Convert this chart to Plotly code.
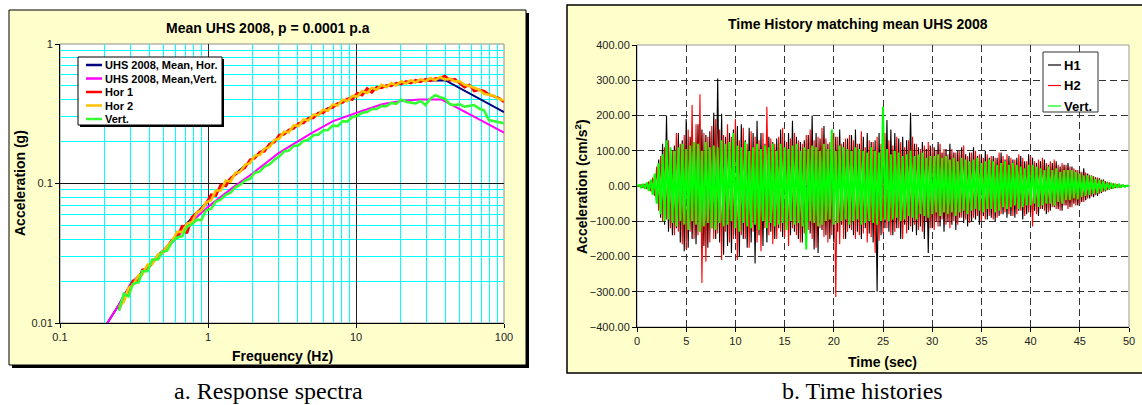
import plotly.graph_objects as go

W, H = 1142, 405

# ---------------- Left panel: response spectra ----------------
freq_uhs_h = [0.2, 0.25, 0.3, 0.4, 0.5, 0.7, 1.0, 1.5, 2.0, 3.0, 5.0, 7.0, 10, 15, 20, 30, 40, 50, 70, 100]
uhs_h = [0.0093, 0.0135, 0.019, 0.026, 0.033, 0.050, 0.075, 0.115, 0.150, 0.215, 0.300, 0.360,
         0.430, 0.490, 0.520, 0.548, 0.550, 0.485, 0.400, 0.325]
freq_uhs_v = [0.2, 0.25, 0.3, 0.4, 0.5, 0.7, 1.0, 1.5, 2.0, 3.0, 5.0, 7.0, 10, 15, 20, 27, 38, 50, 70, 100]
uhs_v = [0.0093, 0.0135, 0.019, 0.026, 0.032, 0.048, 0.068, 0.095, 0.118, 0.165, 0.230, 0.280,
         0.320, 0.370, 0.390, 0.400, 0.400, 0.345, 0.284, 0.232]

freq_rec = [0.25, 0.27, 0.29, 0.31, 0.34, 0.36, 0.39, 0.42, 0.46, 0.49,
            0.53, 0.57, 0.62, 0.67, 0.72, 0.78, 0.84, 0.90, 0.97, 1.05,
            1.13, 1.22, 1.32, 1.42, 1.53, 1.65, 1.78, 1.92, 2.07, 2.24,
            2.41, 2.60, 2.81, 3.03, 3.27, 3.52, 3.80, 4.10, 4.42, 4.77,
            5.15, 5.55, 5.99, 6.46, 6.97, 7.52, 8.11, 8.75, 9.44, 10.2,
            11.0, 11.9, 12.8, 13.8, 14.9, 16.1, 17.3, 18.7, 20.2, 21.8,
            23.5, 25.3, 27.3, 29.5, 31.8, 34.3, 37.0, 39.9, 43.1, 46.5,
            50.1, 54.1, 58.3, 62.9, 67.9, 73.2, 79.0, 85.2, 91.9, 100]
hor1 = [0.0125, 0.0152, 0.0165, 0.0200, 0.0203, 0.0240, 0.0245, 0.0268, 0.0305, 0.0325,
        0.0350, 0.0392, 0.0410, 0.0500, 0.0440, 0.0575, 0.0620, 0.0655, 0.0720, 0.0830,
        0.0820, 0.0980, 0.0960, 0.1090, 0.1160, 0.1230, 0.1300, 0.1480, 0.1520, 0.1680,
        0.1700, 0.1920, 0.1980, 0.2230, 0.2250, 0.2420, 0.2480, 0.2700, 0.2720, 0.2950,
        0.2950, 0.3200, 0.3200, 0.3450, 0.3500, 0.3750, 0.3800, 0.4050, 0.4000, 0.4450,
        0.4300, 0.4800, 0.4500, 0.4900, 0.4850, 0.5050, 0.5000, 0.5250, 0.5150, 0.5400,
        0.5250, 0.5500, 0.5350, 0.5600, 0.5450, 0.5650, 0.5700, 0.5900, 0.5500, 0.5600,
        0.5200, 0.4900, 0.5100, 0.4600, 0.4700, 0.4600, 0.4350, 0.4200, 0.4100, 0.3850]
hor2 = [0.0130, 0.0142, 0.0178, 0.0186, 0.0220, 0.0222, 0.0262, 0.0265, 0.0310, 0.0315,
        0.0355, 0.0385, 0.0450, 0.0450, 0.0515, 0.0530, 0.0620, 0.0640, 0.0730, 0.0760,
        0.0890, 0.0890, 0.1050, 0.1030, 0.1190, 0.1210, 0.1360, 0.1400, 0.1580, 0.1600,
        0.1780, 0.1820, 0.2050, 0.2100, 0.2350, 0.2330, 0.2620, 0.2580, 0.2880, 0.2830,
        0.3120, 0.3080, 0.3380, 0.3320, 0.3680, 0.3620, 0.3980, 0.3900, 0.4250, 0.4200,
        0.4600, 0.4450, 0.4850, 0.4700, 0.5100, 0.4900, 0.5250, 0.5050, 0.5400, 0.5200,
        0.5500, 0.5300, 0.5600, 0.5400, 0.5700, 0.5500, 0.5800, 0.5550, 0.5650, 0.5400,
        0.5400, 0.5100, 0.5000, 0.4850, 0.4700, 0.4400, 0.4300, 0.4250, 0.4050, 0.3950]
vert_sa = [0.0122, 0.0162, 0.0155, 0.0190, 0.0196, 0.0236, 0.0235, 0.0285, 0.0285, 0.0325,
           0.0330, 0.0380, 0.0410, 0.0420, 0.0490, 0.0510, 0.0550, 0.0545, 0.0640, 0.0660,
           0.0740, 0.0770, 0.0830, 0.0860, 0.0940, 0.0980, 0.1050, 0.1080, 0.1190, 0.1220,
           0.1320, 0.1370, 0.1480, 0.1560, 0.1700, 0.1720, 0.1860, 0.1880, 0.2020, 0.2060,
           0.2220, 0.2240, 0.2400, 0.2420, 0.2600, 0.2580, 0.2800, 0.2780, 0.3000, 0.3050,
           0.3220, 0.3250, 0.3420, 0.3420, 0.3600, 0.3580, 0.3780, 0.3720, 0.4000, 0.3850,
           0.3800, 0.3750, 0.3900, 0.3650, 0.4050, 0.4300, 0.4150, 0.4050, 0.3700, 0.3650,
           0.3700, 0.3550, 0.3600, 0.3650, 0.3450, 0.3350, 0.2850, 0.2800, 0.2750, 0.2700]

# ---------------- Right panel: time histories (cm/s2), sampled every 0.2 s ----------------
dt = 0.2
h1 = [0, 2, -3, 5, -7, 9, -12, 16, -22, 30,
      -48, 75, -90, 120, -110, 200, -130, 95, -140, 115,
      -120, 150, -160, 130, -185, 190, -175, 140, -150, 120,
      -165, 175, -130, 160, -170, 145, -175, 155, -120, 208,
      -150, 305, -160, 205, -195, 140, -170, 150, -190, 160,
      -140, 170, -200, 175, -150, 130, -175, 165, -160, 150,
      -220, 185, -140, 150, -170, 120, -160, 140, -130, 125,
      -150, 135, -120, 160, -145, 130, -110, 150, -140, 185,
      -130, 140, -150, 125, -160, 130, -120, 145, -135, 200,
      -180, 150, -190, 135, -125, 170, -140, 120, -150, 130,
      -160, 140, -130, 160, -110, 125, -150, 135, -120, 145,
      -140, 160, -130, 120, -150, 140, -120, 150, -135, 125,
      -160, 130, -300, 150, -140, 170, -120, 187, -130, 160,
      -140, 150, -120, 135, -150, 140, -110, 130, -125, 208,
      -130, 120, -140, 110, -115, 125, -150, 105, -190, 115,
      -120, 110, -100, 125, -115, 95, -130, 105, -100, 120,
      -110, 95, -125, 100, -90, 110, -105, 90, -115, 95,
      -100, 110, -95, 85, -110, 90, -85, 100, -95, 80,
      -90, 85, -100, 80, -85, 95, -80, 75, -90, 85,
      -85, 75, -90, 80, -70, 85, -95, 70, -80, 90,
      -75, 80, -70, 65, -85, 70, -65, 75, -80, 60,
      -70, 65, -60, 70, -65, 55, -70, 60, -55, 65,
      -60, 55, -50, 45, -55, 40, -45, 50, -40, 35,
      -35, 30, -32, 25, -28, 22, -20, 18, -15, 12,
      -10, 9, -7, 6, -5, 4, -3, 3, -2, 1,
      0]
h2 = [0, -2, 4, -5, 6, -9, 13, -15, 24, -28,
      55, -70, 85, -100, 110, -95, 130, -120, 100, -140,
      150, -130, 120, -165, 145, -180, 160, -130, 230, -150,
      175, -140, 260, -275, 150, -215, 140, -160, 170, -150,
      190, -135, 160, -210, 145, -130, 175, -160, 140, -150,
      190, -210, 130, -140, 165, -150, 120, -175, 155, -130,
      140, -160, 130, -185, 150, -120, 225, -140, 135, -165,
      120, -150, 140, -130, 165, -145, 125, -170, 135, -120,
      150, -140, 130, -160, 120, -135, 145, -125, 160, -150,
      130, -175, 140, -120, 165, -145, 135, -160, 125, -140,
      150, -315, 140, -165, 120, -150, 135, -130, 145, -125,
      130, -150, 120, -140, 155, -135, 110, -160, 130, -145,
      125, -190, 140, -155, 120, -135, 150, -120, 130, -140,
      115, -130, 140, -120, 125, -150, 110, -135, 130, -115,
      140, -110, 120, -125, 105, -130, 115, -100, 125, -120,
      110, -125, 100, -115, 120, -95, 105, -110, 90, -120,
      105, -100, 95, -110, 100, -90, 115, -95, 85, -105,
      95, -90, 100, -85, 90, -100, 80, -95, 90, -85,
      85, -95, 80, -90, 95, -80, 85, -75, 90, -80,
      80, -85, 75, -80, 90, -70, 80, -85, 70, -75,
      85, -115, 70, -80, 75, -65, 80, -70, 65, -75,
      70, -60, 75, -65, 60, -70, 65, -55, 60, -65,
      55, -60, 50, -55, 45, -50, 40, -45, 38, -35,
      32, -30, 28, -26, 24, -22, 18, -16, 14, -12,
      10, -8, 7, -6, 5, -4, 3, -2, 2, -1,
      0]
vert_th = [0, 3, -4, 6, -8, 10, -14, 18, -25, 35,
           -50, 65, -80, 90, -100, 130, -95, 110, -105, 100,
           -115, 110, -100, 120, -110, 105, -125, 115, -100, 125,
           -110, 120, -130, 100, -115, 125, -105, 110, -120, 115,
           -125, 110, -105, 130, -115, 120, -110, 125, -100, 150,
           -120, 115, -130, 110, -105, 125, -115, 100, -120, 110,
           -110, 120, -125, 105, -100, 115, -120, 110, -105, 120,
           -115, 100, -110, 120, -105, 110, -125, 105, -100, 115,
           -110, 120, -105, 100, -115, 110, -180, 105, -100, 115,
           -105, 110, -115, 100, -110, 120, -100, 105, -95, 160,
           -110, 100, -105, 115, -100, 110, -95, 105, -110, 100,
           -100, 110, -95, 105, -110, 100, -105, 95, -100, 110,
           -105, 100, -110, 95, -100, 225, -95, 105, -100, 90,
           -95, 100, -90, 95, -100, 85, -95, 90, -85, 100,
           -90, 85, -95, 90, -80, 95, -85, 80, -90, 85,
           -80, 85, -75, 90, -85, 80, -75, 85, -80, 75,
           -75, 80, -85, 70, -75, 80, -70, 75, -80, 70,
           -70, 75, -65, 80, -70, 65, -75, 70, -65, 75,
           -65, 70, -75, 60, -70, 65, -60, 70, -65, 60,
           -60, 65, -55, 60, -65, 55, -60, 50, -55, 60,
           -55, 60, -50, 55, -60, 50, -55, 45, -50, 55,
           -50, 45, -55, 50, -45, 40, -50, 45, -40, 45,
           -40, 45, -35, 40, -38, 35, -32, 30, -28, 30,
           -25, 28, -22, 20, -20, 18, -16, 14, -12, 10,
           -9, 8, -7, 6, -5, 4, -3, 2, -2, 1,
           0]
time_s = [round(i * dt, 1) for i in range(len(h1))]

left_legend = ["UHS 2008, Mean, Hor.", "UHS 2008, Mean,Vert.", "Hor 1", "Hor 2", "Vert."]
left_colors = ["#000080", "#FF00FF", "#FF0000", "#FFC000", "#33FF33"]
right_legend = ["H1", "H2", "Vert."]
right_colors = ["#000000", "#FF0000", "#00FF00"]

SANS = "Liberation Sans, Arial, sans-serif"
SERIF = "Liberation Serif, Times New Roman, serif"


def px(x):
    return x / W


def py(y):
    return 1 - y / H


fig = go.Figure()

# left traces (drawn in legend order)
fig.add_trace(go.Scatter(x=freq_uhs_h, y=uhs_h, mode="lines", name=left_legend[0],
                         line=dict(color=left_colors[0], width=2), xaxis="x", yaxis="y"))
fig.add_trace(go.Scatter(x=freq_uhs_v, y=uhs_v, mode="lines", name=left_legend[1],
                         line=dict(color=left_colors[1], width=2), xaxis="x", yaxis="y"))
fig.add_trace(go.Scatter(x=freq_rec, y=hor1, mode="lines", name=left_legend[2],
                         line=dict(color=left_colors[2], width=2.6), xaxis="x", yaxis="y"))
fig.add_trace(go.Scatter(x=freq_rec, y=hor2, mode="lines", name=left_legend[3],
                         line=dict(color=left_colors[3], width=2.6), xaxis="x", yaxis="y"))
fig.add_trace(go.Scatter(x=freq_rec, y=vert_sa, mode="lines", name=left_legend[4],
                         line=dict(color=left_colors[4], width=2.6), xaxis="x", yaxis="y"))
# empty helper traces so the overlaid decade axes get their subplots
fig.add_trace(go.Scatter(x=[], y=[], mode="lines", xaxis="x3", yaxis="y", hoverinfo="skip"))
fig.add_trace(go.Scatter(x=[], y=[], mode="lines", xaxis="x", yaxis="y3", hoverinfo="skip"))

# right traces
for series, name, col, lw in zip([h1, h2, vert_th], right_legend, right_colors, [1.1, 1.1, 2.0]):
    fig.add_trace(go.Scatter(x=time_s, y=series, mode="lines", name=name,
                             line=dict(color=col, width=lw), xaxis="x2", yaxis="y2"))

# panel geometry in pixels
LP = (60, 44, 504, 323)     # left plot area x0, y0, x1, y1
RP = (637, 45, 1129, 327)   # right plot area

x_decades = [0.1, 1, 10, 100]
y_decades = [0.01, 0.1, 1]
minor_x = [m * 10 ** d for d in (-1, 0, 1) for m in range(2, 10)]
minor_y = [m * 10 ** d for d in (-2, -1) for m in range(2, 10)]

tickfont = dict(family=SANS, size=11, color="#222222")

layout_axes = dict(
    # minor (cyan) grid of the spectra panel
    xaxis=dict(type="log", range=[-1, 2], domain=[px(LP[0]), px(LP[2])], anchor="y",
               tickmode="array", tickvals=minor_x, showticklabels=False, ticks="",
               showgrid=True, gridcolor="#00FFFF", gridwidth=1,
               showline=True, linecolor="black", linewidth=1, zeroline=False, fixedrange=True),
    yaxis=dict(type="log", range=[-2, 0], domain=[py(LP[3]), py(LP[1])], anchor="x",
               tickmode="array", tickvals=minor_y, showticklabels=False, ticks="",
               showgrid=True, gridcolor="#00FFFF", gridwidth=1,
               showline=True, linecolor="black", linewidth=1, zeroline=False, fixedrange=True),
    # decade ticks, labels and dark grid lines
    xaxis3=dict(type="log", range=[-1, 2], overlaying="x", anchor="y", side="bottom",
                tickmode="array", tickvals=x_decades, ticktext=["0.1", "1", "10", "100"],
                showgrid=True, gridcolor="#222222", gridwidth=1, showline=False,
                ticks="outside", ticklen=4, tickcolor="black", tickfont=tickfont,
                zeroline=False, fixedrange=True),
    yaxis3=dict(type="log", range=[-2, 0], overlaying="y", anchor="x", side="left",
                tickmode="array", tickvals=y_decades, ticktext=["0.01", "0.1", "1"],
                showgrid=True, gridcolor="#111111", gridwidth=1, showline=False,
                ticks="outside", ticklen=4, tickcolor="black", tickfont=tickfont,
                zeroline=False, fixedrange=True),
    xaxis2=dict(range=[0, 50], domain=[px(RP[0]), px(RP[2])], anchor="y2",
                tickmode="linear", tick0=0, dtick=5,
                showgrid=True, gridcolor="#333333", gridwidth=1, griddash="7px,4px",
                showline=True, linecolor="black", linewidth=1, ticks="outside", ticklen=4,
                tickcolor="black", tickfont=tickfont, zeroline=False, fixedrange=True),
    yaxis2=dict(range=[-400, 400], domain=[py(RP[3]), py(RP[1])], anchor="x2",
                tickmode="linear", tick0=0, dtick=100, tickformat=".2f",
                showgrid=True, gridcolor="#333333", gridwidth=1, griddash="7px,4px",
                showline=True, linecolor="black", linewidth=1, ticks="outside", ticklen=4,
                tickcolor="black", tickfont=tickfont, zeroline=False, fixedrange=True),
)


def rect(x0, y0, x1, y1, fill, line_color=None, lw=0, layer="below"):
    return dict(type="rect", xref="paper", yref="paper", x0=px(x0), x1=px(x1), y0=py(y1), y1=py(y0),
                fillcolor=fill, line=dict(color=line_color or fill, width=lw), layer=layer)


def hline(x0, x1, y, color, lw, layer="above"):
    return dict(type="line", xref="paper", yref="paper", x0=px(x0), x1=px(x1), y0=py(y), y1=py(y),
                line=dict(color=color, width=lw), layer=layer)


shapes = [
    rect(12, 13, 529, 368, "#000000"),
    rect(9, 10, 526, 365, "#FFFFCC", "#000000", 1),
    rect(567, 5, 1146, 373, "#FFFFCC", "#000000", 1.5),
    rect(LP[0], LP[1], LP[2], LP[3], "#FFFFFF", "#8C8C8C", 1),
    rect(RP[0], RP[1], RP[2], RP[3], "#FFFFFF", "#9A9A9A", 1),
    # left legend box with shadow
    rect(80, 59, 224, 127, "#000000", layer="above"),
    rect(78, 57, 222, 125, "#FFFFFF", "#000000", 1, layer="above"),
    # right legend box
    rect(1043, 52, 1098, 112, "#FFFFFF", "#333333", 1, layer="above"),
]

annotations = []
left_rows = [65, 78.5, 92, 105.5, 119]
for name, col, yy in zip(left_legend, left_colors, left_rows):
    shapes.append(hline(86, 102, yy, col, 2.5))
    annotations.append(dict(text="<b>" + name + "</b>", x=px(103), y=py(yy), xref="paper", yref="paper",
                            xanchor="left", yanchor="middle", showarrow=False,
                            font=dict(family=SANS, size=11, color="#000000")))
right_rows = [65, 85.5, 106]
for name, col, yy in zip(right_legend, right_colors, right_rows):
    shapes.append(hline(1048, 1061, yy, col, 1.2))
    annotations.append(dict(text="<b>" + name + "</b>", x=px(1062), y=py(yy), xref="paper", yref="paper",
                            xanchor="left", yanchor="middle", showarrow=False,
                            font=dict(family=SANS, size=13, color="#000000")))


def label(text, x, y, size=14, angle=0, family=SANS, bold=True, color="#000000"):
    t = "<b>" + text + "</b>" if bold else text
    return dict(text=t, x=px(x), y=py(y), xref="paper", yref="paper", xanchor="center", yanchor="middle",
                showarrow=False, textangle=angle, font=dict(family=family, size=size, color=color))


annotations += [
    label("Mean UHS 2008, p = 0.0001 p.a", 268, 28),
    label("Acceleration (g)", 20, 183, angle=-90),
    label("Frequency (Hz)", 282, 356),
    label("Time History matching mean UHS 2008", 858, 24),
    label("Acceleration (cm/s<sup>2</sup>)", 581, 187, angle=-90),
    label("Time (sec)", 882, 362),
    label("a. Response spectra", 268, 391, size=24, family=SERIF, bold=False),
    label("b. Time histories", 862, 391, size=24, family=SERIF, bold=False),
]

fig.update_layout(
    template="none",
    width=W, height=H,
    margin=dict(l=0, r=0, t=0, b=0, pad=0),
    paper_bgcolor="#FFFFFF",
    plot_bgcolor="rgba(0,0,0,0)",
    showlegend=False,
    hovermode=False,
    font=dict(family=SANS, size=11, color="#000000"),
    shapes=shapes,
    annotations=annotations,
    **layout_axes,
)

fig.write_html("out.html", config={"displayModeBar": False, "staticPlot": False},
               post_script="document.body.style.margin='0';")
